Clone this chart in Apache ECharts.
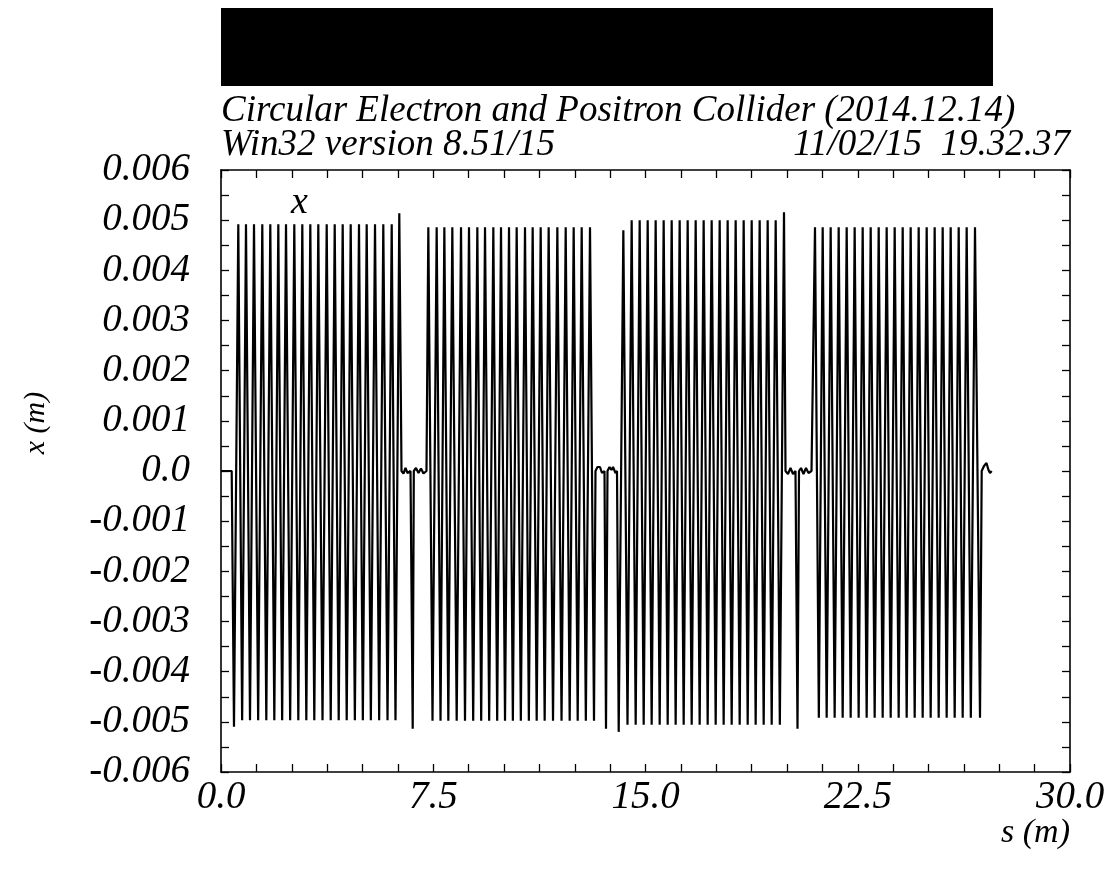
<!DOCTYPE html>
<html>
<head>
<meta charset="utf-8">
<script src="https://cdn.jsdelivr.net/npm/echarts@6/dist/echarts.min.js"></script>
<style>
  html, body { margin: 0; padding: 0; background: #fff; }
  #chart { width: 1114px; height: 872px; }
</style>
</head>
<body>
<div id="chart"></div>
<script>
// orbit x(s), turning points (s in m, x in m)
var leadIn = [[0, 0], [0.378, 0], [0.459, -0.0051]];
var block1 = [0.611, 0.747, 0.883, 1.025, 1.166, 1.313, 1.459, 1.601, 1.742, 1.884, 2.025, 2.161, 2.297, 2.444, 2.590, 2.732, 2.873, 3.015, 3.156, 3.297, 3.438, 3.587, 3.735, 3.877, 4.018, 4.159, 4.300, 4.442, 4.583, 4.730, 4.876, 5.012, 5.148, 5.295, 5.442, 5.589, 5.735, 5.884, 6.032, 6.166];
var gap1 = [[6.300, 0.00514], [6.378, 0], [6.449, -0.00005], [6.519, 0.00006], [6.590, -0.00004], [6.696, 0], [6.742, 0], [6.774, -0.00514], [6.813, 0], [6.890, 0.00006], [6.979, -0.00004], [7.067, 0.00005], [7.155, -0.00005], [7.261, 0]];
var block2 = [7.326, 7.474, 7.621, 7.757, 7.892, 8.033, 8.174, 8.328, 8.481, 8.622, 8.763, 8.911, 9.058, 9.194, 9.329, 9.476, 9.623, 9.759, 9.894, 10.036, 10.177, 10.313, 10.448, 10.595, 10.742, 10.878, 11.013, 11.155, 11.296, 11.437, 11.578, 11.732, 11.885, 12.033, 12.180, 12.321, 12.462, 12.604, 12.745, 12.892, 13.039, 13.180];
var gap2 = [[13.233, 0], [13.304, 0.00008], [13.392, 0.00008], [13.463, -0.00004], [13.551, 0], [13.604, -0.00514], [13.657, 0], [13.728, 0.00008], [13.799, 0.00002], [13.852, 0.00008], [13.940, -0.00004], [13.993, 0], [14.053, -0.0052], [14.217, 0.0048], [14.364, -0.00506]];
var block3 = [14.511, 14.653, 14.794, 14.936, 15.077, 15.218, 15.359, 15.501, 15.642, 15.784, 15.925, 16.066, 16.207, 16.349, 16.490, 16.632, 16.773, 16.914, 17.055, 17.197, 17.338, 17.480, 17.621, 17.762, 17.903, 18.045, 18.186, 18.328, 18.469, 18.611, 18.752, 18.893, 19.034, 19.176, 19.317, 19.459, 19.600, 19.747];
var gap3 = [[19.894, 0.00516], [19.947, 0], [20.035, -0.00006], [20.124, 0.00006], [20.212, -0.00006], [20.300, 0], [20.335, 0], [20.371, -0.00514], [20.424, 0], [20.495, 0.00006], [20.583, -0.00006], [20.671, 0.00006], [20.760, -0.00004], [20.866, 0]];
var block4 = [20.989, 21.125, 21.261, 21.402, 21.543, 21.684, 21.826, 21.967, 22.109, 22.250, 22.391, 22.532, 22.674, 22.815, 22.957, 23.098, 23.240, 23.381, 23.522, 23.664, 23.805, 23.946, 24.088, 24.229, 24.370, 24.512, 24.653, 24.794, 24.936, 25.077, 25.218, 25.360, 25.501, 25.642, 25.784, 25.925, 26.067, 26.208, 26.349, 26.496, 26.643, 26.820];
var tail = [[26.880, 0], [26.961, 0.0001], [27.049, 0.00016], [27.120, 0.00002], [27.173, -0.00004], [27.233, 0]];
// peak / trough level of each block
var blockLevels = [[0.00492, -0.00497], [0.00486, -0.00498], [0.0050, -0.00506], [0.00486, -0.00492]];

var sTicks = [0, 7.5, 15, 22.5, 30];

function turns(list, lv) {
  return list.map(function (s, i) { return [s, i % 2 === 0 ? lv[0] : lv[1]]; });
}

var orbit = [].concat(
  leadIn,
  turns(block1, blockLevels[0]), gap1,
  turns(block2, blockLevels[1]), gap2,
  turns(block3, blockLevels[2]), gap3,
  turns(block4, blockLevels[3]), tail
);

var FONT = '"Liberation Serif", "DejaVu Serif", serif';
var L = 221, R = 1070, T = 170, B = 772;

var chart = echarts.init(document.getElementById('chart'));

var tickStyle = { show: true, inside: true, length: 8, lineStyle: { color: '#000', width: 1.3 } };
var lineStyle = { show: true, onZero: false, lineStyle: { color: '#000', width: 1.6 } };

function sLabel(v) {
  var k = Math.round(v * 100);
  for (var i = 0; i < sTicks.length; i++) {
    if (Math.round(sTicks[i] * 100) === k) return v.toFixed(1);
  }
  return '';
}
function xLabel(v) {
  var k = Math.round(v * 10000);
  if (k % 10 !== 0) return '';
  if (k === 0) return '0.0';
  return (k / 10000).toFixed(3);
}

chart.setOption({
  backgroundColor: '#fff',
  animation: false,
  grid: { left: L, right: 1114 - R, top: T, bottom: 872 - B },
  xAxis: [
    {
      type: 'value', position: 'bottom', min: 0, max: 30, interval: 1.25,
      axisLine: lineStyle, axisTick: tickStyle, splitLine: { show: false },
      axisLabel: {
        formatter: sLabel, color: '#000', fontFamily: FONT, fontStyle: 'italic',
        fontSize: 39, margin: 6, showMinLabel: true, showMaxLabel: true
      }
    },
    {
      type: 'value', position: 'top', min: 0, max: 30, interval: 1.25,
      axisLine: lineStyle, axisTick: tickStyle, splitLine: { show: false },
      axisLabel: { show: false }
    }
  ],
  yAxis: [
    {
      type: 'value', position: 'left', min: -0.006, max: 0.006, interval: 0.0005,
      axisLine: lineStyle, axisTick: tickStyle, splitLine: { show: false },
      axisLabel: {
        formatter: xLabel, color: '#000', fontFamily: FONT, fontStyle: 'italic',
        fontSize: 39, margin: 31
      }
    },
    {
      type: 'value', position: 'right', min: -0.006, max: 0.006, interval: 0.0005,
      axisLine: lineStyle, axisTick: tickStyle, splitLine: { show: false },
      axisLabel: { show: false }
    }
  ],
  series: [{
    type: 'line',
    data: orbit,
    showSymbol: false,
    sampling: null,
    lineStyle: { color: '#000', width: 2.2 },
    clip: true
  }],
  graphic: [
    { type: 'rect', shape: { x: L, y: 8, width: 772, height: 78 }, style: { fill: '#000' } },
    {
      type: 'text', x: L, y: 130,
      style: { text: 'Circular Electron and Positron Collider (2014.12.14)', font: 'italic 37px ' + FONT, fill: '#000', textVerticalAlign: 'bottom' }
    },
    {
      type: 'text', x: L, y: 164,
      style: { text: 'Win32 version 8.51/15', font: 'italic 37px ' + FONT, fill: '#000', textVerticalAlign: 'bottom' }
    },
    {
      type: 'text', x: R, y: 164,
      style: { text: '11/02/15  19.32.37', font: 'italic 37px ' + FONT, fill: '#000', textAlign: 'right', textVerticalAlign: 'bottom' }
    },
    {
      type: 'text', x: 291, y: 222,
      style: { text: 'x', font: 'italic 38px ' + FONT, fill: '#000', textVerticalAlign: 'bottom' }
    },
    {
      type: 'text', x: 36, y: 423, rotation: Math.PI / 2,
      style: { text: 'x (m)', font: 'italic 30px ' + FONT, fill: '#000', textAlign: 'center', textVerticalAlign: 'middle' }
    },
    {
      type: 'text', x: R, y: 850,
      style: { text: 's (m)', font: 'italic 34px ' + FONT, fill: '#000', textAlign: 'right', textVerticalAlign: 'bottom' }
    }
  ]
});
</script>
</body>
</html>
